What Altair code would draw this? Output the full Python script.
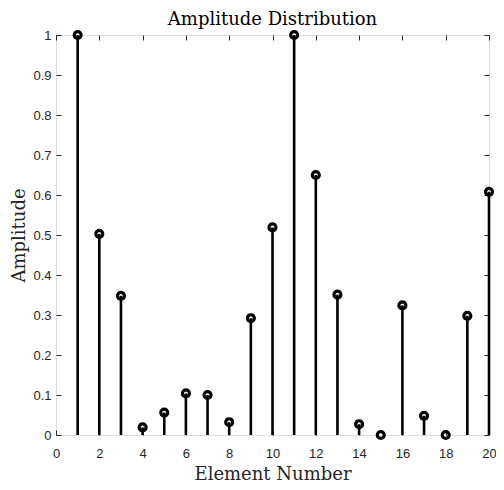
import altair as alt
import pandas as pd

elements = list(range(1, 21))
amplitudes = [1.0, 0.503, 0.348, 0.019, 0.056, 0.104, 0.100, 0.032, 0.292, 0.519,
              1.0, 0.650, 0.351, 0.027, 0.0, 0.324, 0.048, 0.0, 0.298, 0.608]
x_ticks = list(range(0, 21, 2))
y_ticks = [round(i * 0.1, 1) for i in range(11)]

df = pd.DataFrame({"element": elements, "amp": amplitudes, "zero": [0.0] * len(elements)})

tick_color = "#262626"
label_font = "Liberation Sans"
serif = "DejaVu Serif"

xscale = alt.Scale(domain=[0, 20], nice=False, zero=False)
yscale = alt.Scale(domain=[0, 1], nice=False)

xaxis = alt.Axis(values=x_ticks, title="Element Number", grid=False, domain=False,
                 offset=-5, tickSize=5, tickColor=tick_color, tickWidth=1,
                 labelFont=label_font, labelFontSize=13, labelColor=tick_color,
                 labelPadding=12, labelFlush=False, format="~g",
                 titleFont=serif, titleFontSize=18,
                 titleFontWeight="normal", titleColor=tick_color, titlePadding=5)
yaxis = alt.Axis(values=y_ticks, title="Amplitude", grid=False, domain=False,
                 offset=-5, tickSize=5, tickColor=tick_color, tickWidth=1,
                 labelFont=label_font, labelFontSize=13, labelColor=tick_color,
                 labelPadding=5, labelFlush=False, format="~g",
                 titleFont=serif, titleFontSize=18,
                 titleFontWeight="normal", titleColor=tick_color, titlePadding=4)

xaxis_top = alt.Axis(values=x_ticks, orient="top", title=None, labels=False, grid=False,
                     domain=False, offset=-5, tickSize=5, tickColor=tick_color, tickWidth=1)
yaxis_right = alt.Axis(values=y_ticks, orient="right", title=None, labels=False, grid=False,
                       domain=False, offset=-5, tickSize=5, tickColor=tick_color, tickWidth=1)

stems = alt.Chart(df).mark_rule(color="black", strokeWidth=2.6).encode(
    x=alt.X("element:Q", scale=xscale, axis=xaxis),
    y=alt.Y("zero:Q", scale=yscale, axis=yaxis),
    y2="amp:Q",
)

points = alt.Chart(df).mark_point(shape="circle", filled=False, color="black",
                                  strokeWidth=3.2, size=48, opacity=1, clip=False).encode(
    x=alt.X("element:Q", scale=xscale, axis=xaxis_top),
    y=alt.Y("amp:Q", scale=yscale, axis=yaxis_right),
)

chart = alt.layer(stems, points).resolve_axis(x="independent", y="independent").properties(
    width=433, height=400,
    title=alt.TitleParams("Amplitude Distribution", font=serif, fontSize=18,
                          fontWeight="normal", color="black", offset=-4),
    autosize=alt.AutoSizeParams(type="none"),
    padding={"left": 48, "top": 27, "right": 7, "bottom": 47},
).configure_view(stroke="black", strokeWidth=1).configure(background="white")

chart.save("out.html", embed_options={"renderer": "svg", "actions": False})
